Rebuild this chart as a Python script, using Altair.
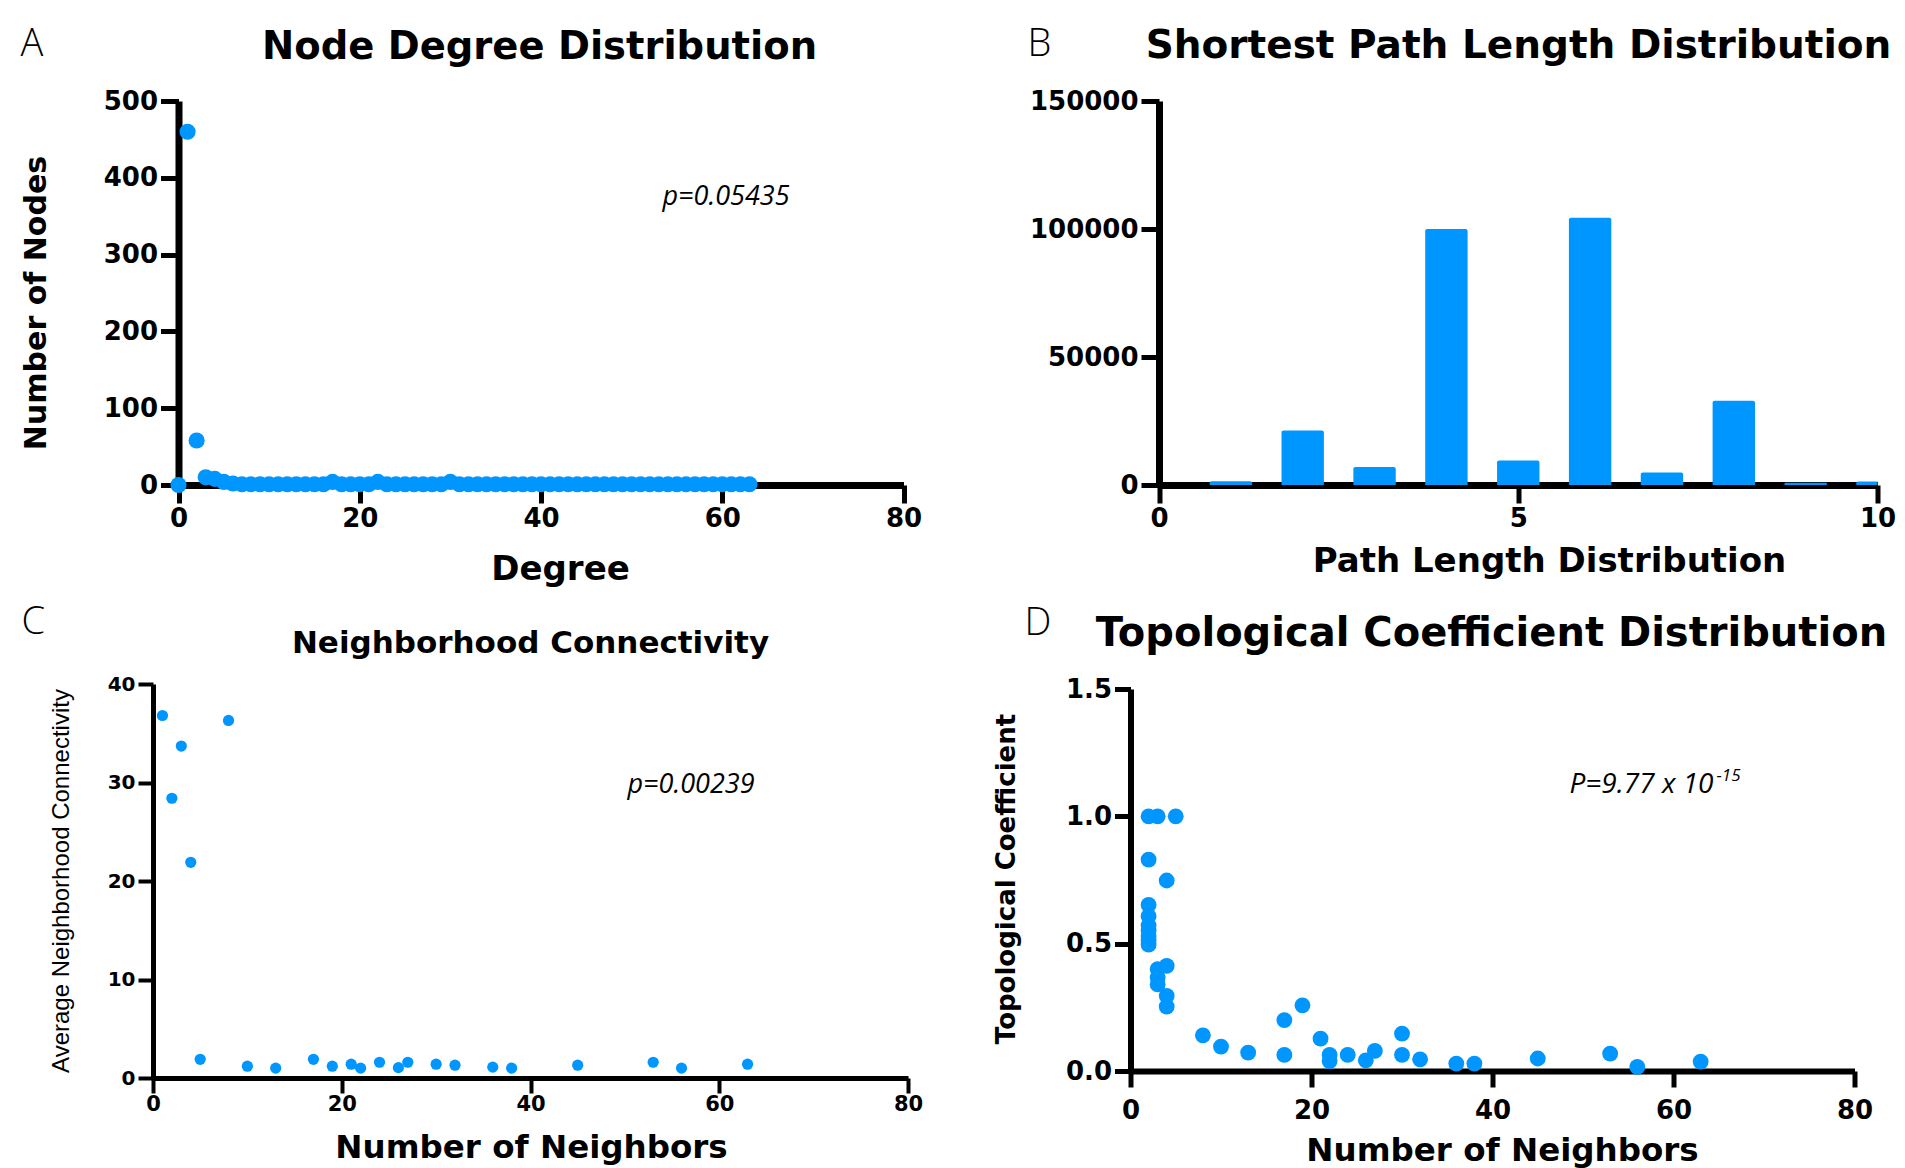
import altair as alt
import pandas as pd

BLUE = "#0096FF"

# ---------------- data ----------------
# A: node degree distribution
deg_degree = list(range(0, 64))
deg_count = [0, 460, 58, 10, 8, 4, 2] + [1] * 10 + [4] + [1] * 4 + [4] + [1] * 7 + [4] + [1] * 33

# B: shortest path length distribution
path_len = [1, 2, 3, 4, 5, 6, 7, 8, 9, 10]
path_cnt = [1500, 21300, 7000, 100000, 9600, 104400, 4900, 32900, 900, 1400]

# C: neighborhood connectivity
nc_x = [1, 2, 3, 4, 5, 8, 10, 13, 17, 19, 21, 22, 24, 26, 27, 30, 32, 36, 38, 45, 53, 56, 63]
nc_y = [36.8, 28.4, 33.7, 21.9, 1.9, 36.3, 1.2, 1.0, 1.9, 1.2, 1.4, 1.0, 1.6, 1.05, 1.6,
        1.4, 1.3, 1.1, 1.0, 1.3, 1.6, 1.0, 1.4]

# D: topological coefficient
tc_x = [2, 2, 2, 2, 2, 2, 2, 2, 2,
        3, 3, 3, 3, 5,
        4, 4, 4, 4,
        8, 10, 13, 17, 17, 19, 21, 22, 22, 24, 26, 27, 30, 30, 32, 36, 38, 45, 53, 56, 63]
tc_y = [1.0, 0.83, 0.652, 0.608, 0.571, 0.551, 0.53, 0.512, 0.496,
        1.0, 0.40, 0.367, 0.34, 1.0,
        0.748, 0.413, 0.295, 0.253,
        0.14, 0.096, 0.072, 0.2, 0.063, 0.258, 0.127, 0.063, 0.039, 0.063, 0.042, 0.079,
        0.147, 0.063, 0.046, 0.029, 0.029, 0.049, 0.068, 0.016, 0.037]

# ---------------- helpers ----------------
def axis(values, fs, fmt=None, tick_size=18, domain_w=7, tick_w=5, pad=3, offset=None):
    kw = dict(values=values, title=None, grid=False, domainColor="black",
              domainWidth=domain_w, tickColor="black", tickWidth=tick_w,
              tickSize=tick_size, labelFont="DejaVu Sans", labelFontWeight="bold",
              labelFontSize=fs, labelColor="black", labelPadding=pad,
              labelFlush=False, labelOverlap=False)
    if fmt:
        kw["format"] = fmt
    if offset is not None:
        kw["offset"] = offset
    return alt.Axis(**kw)


def txt(s, x, y, size, font="DejaVu Sans", weight="bold", style="normal",
        align="center", baseline="alphabetic", angle=0):
    return alt.Chart(pd.DataFrame({"t": [s]})).mark_text(
        font=font, fontWeight=weight, fontStyle=style, fontSize=size,
        align=align, baseline=baseline, angle=angle, color="black"
    ).encode(x=alt.value(x), y=alt.value(y), text="t:N")


LETTER_FONT = "Open Sans"
P_FONT = "Open Sans"

# ---------------- panel A ----------------
wA, hA = 751, 384
dfA = pd.DataFrame({"deg": deg_degree, "cnt": deg_count})
ptsA = alt.Chart(dfA).mark_circle(size=260, color=BLUE, opacity=1).encode(
    x=alt.X("deg:Q", scale=alt.Scale(domain=[0, 80], nice=False, range=[25.5, 750.5]),
            axis=axis([0, 20, 40, 60, 80], 26, pad=2)),
    y=alt.Y("cnt:Q", scale=alt.Scale(domain=[0, 500], nice=False),
            axis=axis([0, 100, 200, 300, 400, 500], 26, offset=-25.5)),
)
anchor = alt.Chart(pd.DataFrame({"v": [0]})).mark_rule(color="white", strokeWidth=1).encode(
    x=alt.value(-152.5), x2=alt.value(-150), y=alt.value(-100))
A = alt.layer(
    ptsA,
    anchor,
    txt("Node Degree Distribution", 386.5, -42, 38.5),
    txt("A", -132.5, -45, 38, font=LETTER_FONT, weight=300, align="left"),
    txt("Number of Nodes", -116.5, 202, 30, baseline="middle", angle=270),
    txt("Degree", 407.5, 469, 34, baseline="middle"),
    txt("p=0.05435", 509.5, 104, 27, font=P_FONT, weight="normal", style="italic", align="left"),
).properties(width=wA, height=hA)

# ---------------- panel B ----------------
wB, hB = 747, 384
dfB = pd.DataFrame({"len": path_len, "cnt": path_cnt})
barsB = alt.Chart(dfB).transform_calculate(
    x0="datum.len - 0.295", x1="datum.len + 0.295"
).mark_bar(color=BLUE, clip=True, cornerRadiusTopLeft=2, cornerRadiusTopRight=2).encode(
    x=alt.X("x0:Q", scale=alt.Scale(domain=[0, 10], nice=False, range=[28.5, 747]),
            axis=axis([0, 5, 10], 26, pad=2)),
    x2="x1:Q",
    y=alt.Y("cnt:Q", scale=alt.Scale(domain=[0, 150000], nice=False),
            axis=axis([0, 50000, 100000, 150000], 26, fmt="d", offset=-28.5)),
    y2=alt.datum(0),
)
B = alt.layer(
    barsB,
    txt("Shortest Path Length Distribution", 388, -43, 39),
    txt("B", -103, -45, 38, font=LETTER_FONT, weight=300, align="left"),
    txt("Path Length Distribution", 419, 461, 34, baseline="middle"),
).properties(width=wB, height=hB)

# ---------------- panel C ----------------
wC, hC = 755, 394
dfC = pd.DataFrame({"x": nc_x, "y": nc_y})
ptsC = alt.Chart(dfC).mark_circle(size=125, color=BLUE, opacity=1).encode(
    x=alt.X("x:Q", scale=alt.Scale(domain=[0, 80], nice=False),
            axis=axis([0, 20, 40, 60, 80], 21, tick_size=15, domain_w=5, tick_w=4, pad=0)),
    y=alt.Y("y:Q", scale=alt.Scale(domain=[0, 40], nice=False),
            axis=axis([0, 10, 20, 30, 40], 20, tick_size=15, domain_w=5, tick_w=4, pad=3)),
)
C = alt.layer(
    ptsC,
    txt("Neighborhood Connectivity", 377.5, -31, 31),
    txt("C", -131.5, -50, 38, font=LETTER_FONT, weight=300, align="left"),
    txt("Average Neighborhood Connectivity", -91.5, 197, 24,
        font="Liberation Sans", weight="normal", baseline="middle", angle=270),
    txt("Number of Neighbors", 378.5, 464, 32.5, baseline="middle"),
    txt("p=0.00239", 474.5, 109, 27, font=P_FONT, weight="normal", style="italic", align="left"),
).properties(width=wC, height=hC)

# ---------------- panel D ----------------
wD, hD = 724, 387
dfD = pd.DataFrame({"x": tc_x, "y": tc_y})
ptsD = alt.Chart(dfD).mark_circle(size=250, color=BLUE, opacity=1).encode(
    x=alt.X("x:Q", scale=alt.Scale(domain=[0, 80], nice=False),
            axis=axis([0, 20, 40, 60, 80], 26, tick_size=16, domain_w=6, pad=10)),
    y=alt.Y("y:Q", scale=alt.Scale(domain=[0, 1.5], nice=False, range=[387, 5]),
            axis=axis([0, 0.5, 1.0, 1.5], 26, fmt=".1f", tick_size=16, domain_w=6)),
)
D = alt.layer(
    ptsD,
    txt("Topological Coefficient Distribution", 361, -38.5, 40),
    txt("D", -106, -49, 38, font=LETTER_FONT, weight=300, align="left"),
    txt("Topological Coefficient", -124, 195, 26, baseline="middle", angle=270),
    txt("Number of Neighbors", 372, 467, 32.5, baseline="middle"),
    txt("P=9.77 x 10", 439, 109, 28, font=P_FONT, weight="normal", style="italic", align="left"),
    txt("-15", 586, 97, 17, font=P_FONT, weight="normal", style="italic", align="left"),
).properties(width=wD, height=hD)

# ---------------- layout ----------------
chart = alt.concat(
    A, B, C, D, columns=2, align="each", bounds="flush",
    spacing={"row": 199, "column": 222.5},
).configure_view(strokeWidth=0).properties(padding=0, background="white")

chart.save("out.html", embed_options={"renderer": "svg", "actions": False})
